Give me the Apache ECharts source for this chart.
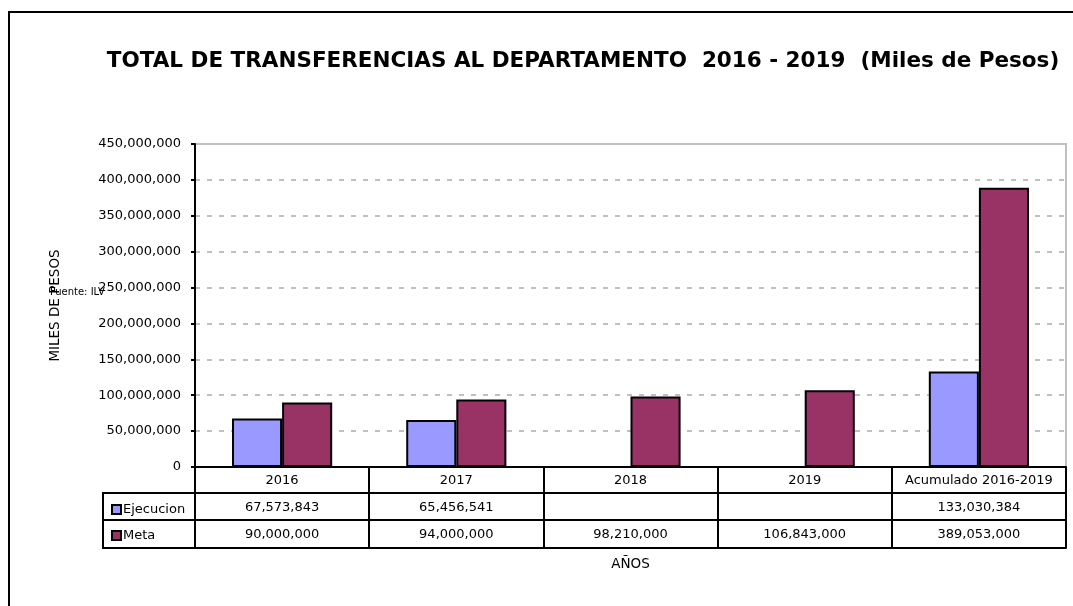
<!DOCTYPE html>
<html>
<head>
<meta charset="utf-8">
<script src="https://cdn.jsdelivr.net/npm/echarts@6/dist/echarts.min.js"></script>
<style>
  html, body { margin: 0; padding: 0; background: #fff; }
  #chart { width: 1073px; height: 606px; }
</style>
</head>
<body>
<div id="chart"></div>
<script>
var categories = ['2016', '2017', '2018', '2019', 'Acumulado 2016-2019'];
var ejecucion = [67573843, 65456541, null, null, 133030384];
var meta = [90000000, 94000000, 98210000, 106843000, 389053000];

function fmt(v) {
	if (v === null || v === undefined) return '';
	return v.toLocaleString('en-US');
}

var font = 'DejaVu Sans, sans-serif';
var myChart = echarts.init(document.getElementById('chart'));

// fila de tabla debajo del eje
function tableAxis(offset, arr) {
	return {
		type: 'category',
		position: 'bottom',
		offset: offset,
		data: categories,
		axisLine: { show: true, lineStyle: { color: '#000', width: 2 } },
		axisTick: { show: false },
		axisLabel: {
			show: !!arr,
			interval: 0,
			margin: 8,
			color: '#000',
			fontFamily: font,
			fontSize: 13,
			formatter: function (v, i) { return arr ? fmt(arr[i]) : ''; }
		}
	};
}

var xAxes = [{
	type: 'category',
	position: 'bottom',
	data: categories,
	axisLine: { show: true, lineStyle: { color: '#000', width: 2 } },
	axisTick: { show: true, interval: 0, length: 81, lineStyle: { color: '#000', width: 2 } },
	axisLabel: { interval: 0, margin: 7, color: '#000', fontFamily: font, fontSize: 13 }
},
	tableAxis(26, ejecucion),
	tableAxis(53, meta),
	tableAxis(81, null)
];
xAxes[3].name = 'AÑOS';
xAxes[3].nameLocation = 'middle';
xAxes[3].nameGap = 9;
xAxes[3].nameTextStyle = { color: '#000', fontFamily: font, fontSize: 13.5 };

option = {
	animation: false,
	backgroundColor: '#fff',
	title: {
		text: 'TOTAL DE TRANSFERENCIAS AL DEPARTAMENTO  2016 - 2019  (Miles de Pesos)',
		left: 578,
		textAlign: 'center',
		top: 45,
		textStyle: { fontFamily: font, fontSize: 21.5, fontWeight: 'bold', color: '#000' }
	},
	legend: {
		orient: 'vertical',
		left: 106,
		top: 498,
		itemGap: 13,
		itemWidth: 9,
		itemHeight: 9,
		icon: 'rect',
		textStyle: { fontFamily: font, fontSize: 13, color: '#000', padding: [0, 0, 0, -3] },
		data: ['Ejecucion', 'Meta']
	},
	grid: {
		left: 195,
		right: 7,
		top: 144,
		bottom: 139,
		show: true,
		borderColor: '#c0c0c0',
		borderWidth: 2
	},
	xAxis: xAxes,
	yAxis: {
		type: 'value',
		min: 0,
		max: 450000000,
		interval: 50000000,
		name: 'MILES DE PESOS',
		nameLocation: 'middle',
		nameGap: 133,
		nameTextStyle: { fontFamily: font, fontSize: 13.5, color: '#000' },
		axisLine: { show: true, lineStyle: { color: '#000', width: 2 } },
		axisTick: { show: true, length: 4, lineStyle: { color: '#000', width: 2 } },
		axisLabel: {
			margin: 14,
			color: '#000',
			fontFamily: font,
			fontSize: 13,
			formatter: function (v) { return fmt(v); }
		},
		splitLine: { lineStyle: { color: '#c0c0c0', width: 2, type: [5, 7] } }
	},
	graphic: [{
		type: 'polyline',
		shape: { points: [[9, 606], [9, 12], [1073, 12]] },
		style: { stroke: '#000', lineWidth: 2, fill: null }
	}, {
		type: 'polyline',
		shape: { points: [[195, 493], [103, 493], [103, 548], [195, 548]] },
		style: { stroke: '#000', lineWidth: 2, fill: null }
	}, {
		type: 'line',
		shape: { x1: 103, y1: 520, x2: 195, y2: 520 },
		style: { stroke: '#000', lineWidth: 2 }
	}, {
		type: 'text',
		left: 50,
		top: 287,
		style: { text: 'Fuente: ILV', fontFamily: font, fontSize: 10, fill: '#000' }
	}],
	series: [{
		name: 'Ejecucion',
		type: 'bar',
		barGap: 0,
		barCategoryGap: '42.5%',
		itemStyle: { color: '#9999FF', borderColor: '#000', borderWidth: 2 },
		data: ejecucion
	}, {
		name: 'Meta',
		type: 'bar',
		barGap: 0,
		barCategoryGap: '42.5%',
		itemStyle: { color: '#993366', borderColor: '#000', borderWidth: 2 },
		data: meta
	}]
};

myChart.setOption(option);
</script>
</body>
</html>
